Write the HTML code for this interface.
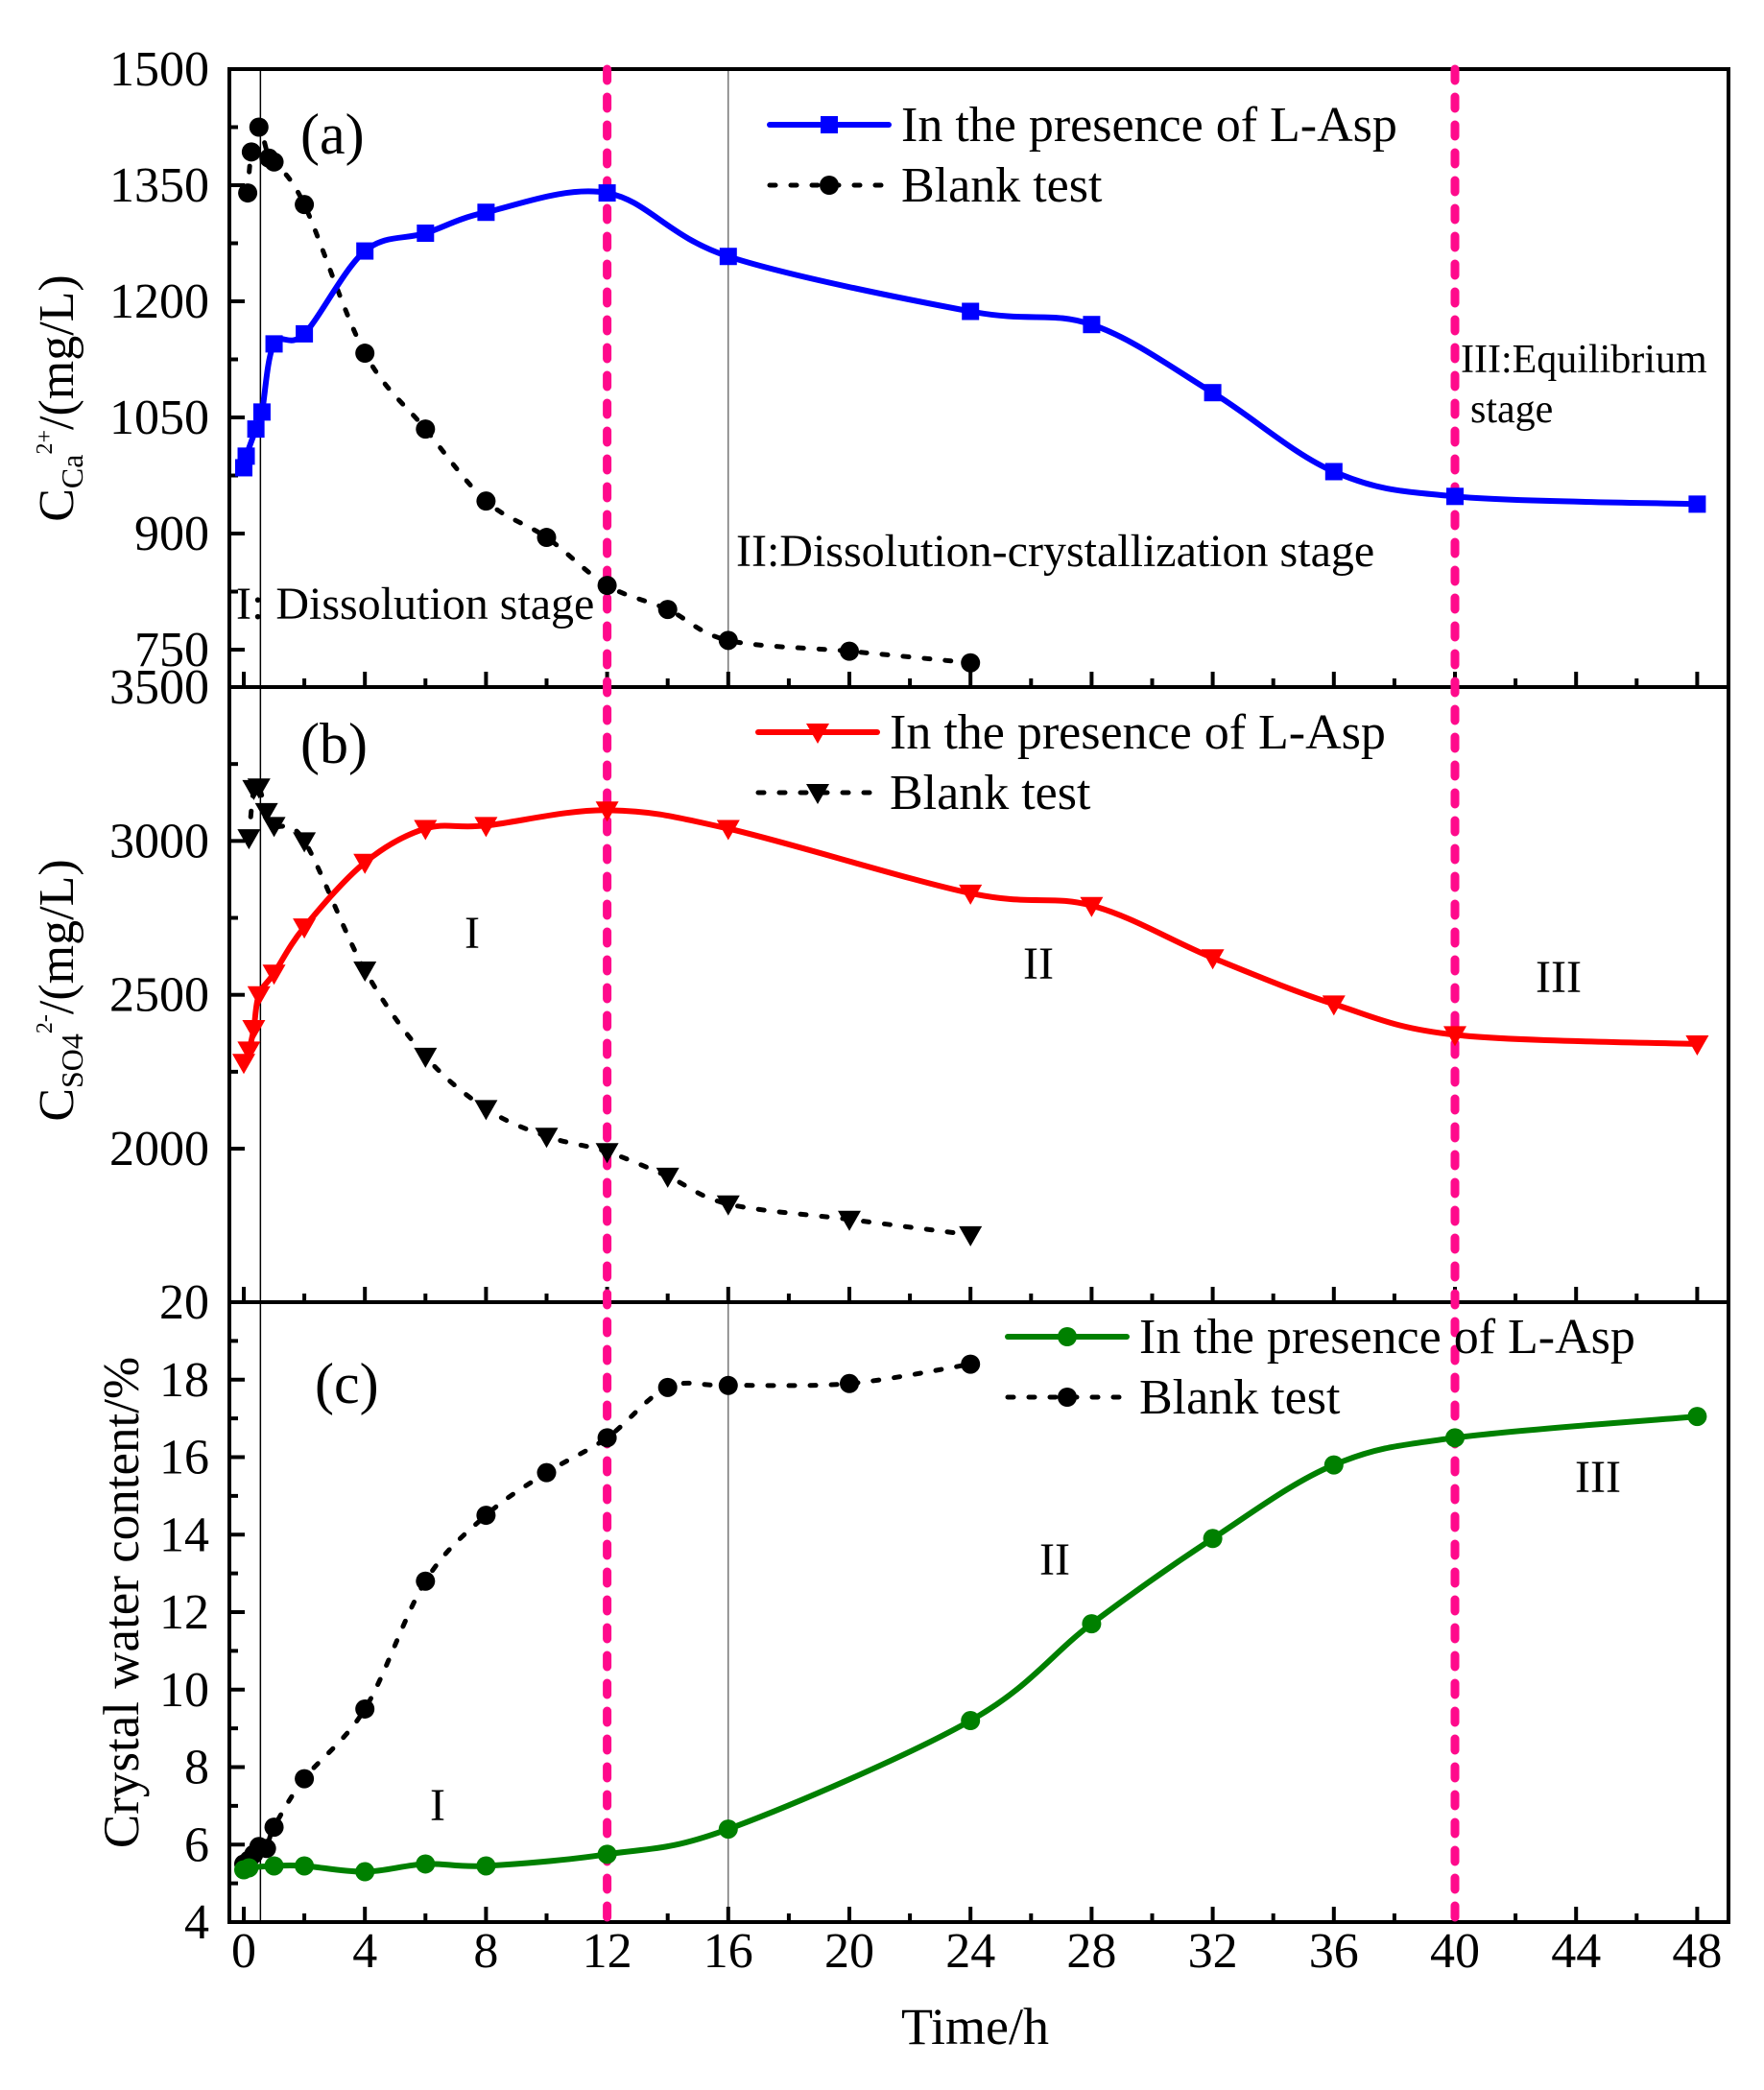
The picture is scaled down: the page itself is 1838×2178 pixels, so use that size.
<!DOCTYPE html>
<html><head><meta charset="utf-8"><style>
html,body{margin:0;padding:0;background:#fff}
svg{display:block}
text{font-family:"Liberation Serif",serif;fill:#000}
</style></head><body>
<svg id="chart" width="1838" height="2178" viewBox="0 0 1838 2178" xmlns="http://www.w3.org/2000/svg"></svg>
<script>
// ---- data ----
const caLaspT = [0,0.08,0.4,0.6,1,2,4,6,8,12,16,24,28,32,36,40,48];
const caLaspV = [985,1000,1035,1057,1145,1158,1265,1288,1315,1340,1258,1187,1170,1082,980,948,938];
const caBlankT = [0.13,0.25,0.5,0.83,1,2,4,6,8,10,12,14,16,20,24];
const caBlankV = [1340,1393,1425,1385,1380,1325,1133,1035,942,895,833,802,762,748,733];
const soLaspT = [0,0.17,0.33,0.5,1,2,4,6,8,12,16,24,28,32,36,40,48];
const soLaspV = [2280,2320,2390,2500,2570,2720,2930,3040,3050,3100,3040,2830,2790,2620,2470,2370,2340];
const soBlankT = [0.17,0.33,0.5,0.75,1,2,4,6,8,10,12,14,16,20,24];
const soBlankV = [3010,3170,3175,3095,3050,3000,2580,2300,2130,2040,1990,1910,1820,1770,1720];
const cwLaspT = [0,0.17,1,2,4,6,8,12,16,24,28,32,36,40,48];
const cwLaspV = [5.35,5.4,5.45,5.45,5.3,5.5,5.45,5.75,6.4,9.2,11.7,13.9,15.8,16.5,17.05];
const cwBlankT = [0,0.17,0.33,0.5,0.75,1,2,4,6,8,10,12,14,16,20,24];
const cwBlankV = [5.5,5.6,5.75,5.95,5.9,6.45,7.7,9.5,12.8,14.5,15.6,16.5,17.8,17.85,17.9,18.4];
const xTicks = [0,4,8,12,16,20,24,28,32,36,40,44,48];
const caTicks = [750,900,1050,1200,1350,1500];
const soTicks = [2000,2500,3000,3500];
const cwTicks = [4,6,8,10,12,14,16,18,20];

const NS="http://www.w3.org/2000/svg";
const svg=document.getElementById('chart');
function el(tag,attrs,parent){const e=document.createElementNS(NS,tag);for(const k in attrs)e.setAttribute(k,attrs[k]);(parent||svg).appendChild(e);return e;}
const L=239,R=1801;
const X0=254,KX=31.55;
function xs(t){return X0+t*KX;}
const panels={
 a:{top:72,bot:716,y:v=>72+(1500-v)*0.8067},
 b:{top:716,bot:1357,y:v=>716+(3500-v)*0.3207},
 c:{top:1357,bot:2003,y:v=>2003-(v-4)*40.375}
};
function smoothPath(pts){
  let d=`M${pts[0][0]},${pts[0][1]}`;
  for(let i=0;i<pts.length-1;i++){
    const p0=pts[Math.max(0,i-1)],p1=pts[i],p2=pts[i+1],p3=pts[Math.min(pts.length-1,i+2)];
    const c1x=p1[0]+(p2[0]-p0[0])/6,c1y=p1[1]+(p2[1]-p0[1])/6;
    const c2x=p2[0]-(p3[0]-p1[0])/6,c2y=p2[1]-(p3[1]-p1[1])/6;
    d+=` C${c1x},${c1y} ${c2x},${c2y} ${p2[0]},${p2[1]}`;
  }
  return d;
}
function marker(shape,x,y,color,g){
  let m;
  if(shape==='sq') m=el('rect',{x:x-9,y:y-9,width:18,height:18,fill:color},g);
  else if(shape==='ci') m=el('circle',{cx:x,cy:y,r:10,fill:color},g);
  else m=el('polygon',{points:`${x-12},${y-9} ${x+12},${y-9} ${x},${y+12}`,fill:color},g);
  return m;
}
function series(name,T,V,p,color,shape,dashed){
  const g=el('g',{});
  
  
  const pts=T.map((t,i)=>[xs(t),p.y(V[i])]);
  const path=el('path',{d:smoothPath(pts),fill:'none',stroke:color,'stroke-width':dashed?5:6,'stroke-dasharray':dashed?'6 16':'none','stroke-linecap':dashed?'round':'butt'},g);
  
  
  pts.forEach(pt=>{const m=marker(shape,pt[0],pt[1],color,g);
    
    });
}
const vl1=el('line',{x1:xs(0.55),y1:72,x2:xs(0.55),y2:2003,stroke:'#000','stroke-width':1.5});


[[72,716],[1357,2003]].forEach(r=>{const l=el('line',{x1:xs(16),y1:r[0],x2:xs(16),y2:r[1],stroke:'#555','stroke-width':1.2});
 
 });

function axes(key,ticks,minorStep,labels){
  const p=panels[key];
  const g=el('g',{});
  
  
  el('rect',{x:L,y:p.top,width:R-L,height:p.bot-p.top,fill:'none',stroke:'#000','stroke-width':4},g);
  for(let t=0;t<=48;t+=2){const maj=t%4===0;el('line',{x1:xs(t),y1:p.bot,x2:xs(t),y2:p.bot-(maj?16:9),stroke:'#000','stroke-width':4},g);}
  const lo=ticks[0],hi=ticks[ticks.length-1];
  for(let v=lo;v<=hi+1e-9;v+=minorStep){const maj=ticks.some(tk=>Math.abs(tk-v)<1e-6);
    el('line',{x1:L,y1:p.y(v),x2:L+(maj?16:9),y2:p.y(v),stroke:'#000','stroke-width':4},g);}
  labels.forEach(v=>{const tx=el('text',{x:218,y:p.y(v)+17,'font-size':52,'text-anchor':'end'},g);tx.textContent=v;
    
    });
}
axes('a',caTicks,75,caTicks);
axes('b',soTicks,250,soTicks.slice());
axes('c',cwTicks,1,cwTicks);
xTicks.forEach(t=>{const tx=el('text',{x:xs(t),y:2050,'font-size':52,'text-anchor':'middle'});tx.textContent=t;
 
 });

[12,40].forEach(t=>{const l=el('line',{x1:xs(t),y1:72,x2:xs(t),y2:1998,stroke:'#ff0a8c','stroke-width':9,'stroke-dasharray':'12 17','stroke-linecap':'round'});
 
 });

series('ca-blank-series',caBlankT,caBlankV,panels.a,'#000','ci',true);
series('ca-lasp-series',caLaspT,caLaspV,panels.a,'#0000ff','sq',false);
series('so4-blank-series',soBlankT,soBlankV,panels.b,'#000','tri',true);
series('so4-lasp-series',soLaspT,soLaspV,panels.b,'#ff0000','tri',false);
series('cw-blank-series',cwBlankT,cwBlankV,panels.c,'#000','ci',true);
series('cw-lasp-series',cwLaspT,cwLaspV,panels.c,'#008000','ci',false);

function legend(x,y,color,shape,dashed,label,name){
  const g=el('g',{});
  
  
  el('line',{x1:x,y1:y,x2:x+124,y2:y,stroke:color,'stroke-width':dashed?5:6,'stroke-dasharray':dashed?'6 16':'none','stroke-linecap':'round'},g);
  marker(shape,x+62,y,color,g);
  const t=el('text',{x:x+137,y:y+17,'font-size':52},g);t.textContent=label;
}
legend(802,130,'#0000ff','sq',false,'In the presence of L-Asp','legend-ca-lasp');
legend(802,193,'#000','ci',true,'Blank test','legend-ca-blank');
legend(790,763,'#ff0000','tri',false,'In the presence of L-Asp','legend-so4-lasp');
legend(790,826,'#000','tri',true,'Blank test','legend-so4-blank');
legend(1050,1393,'#008000','ci',false,'In the presence of L-Asp','legend-cw-lasp');
legend(1050,1456,'#000','ci',true,'Blank test','legend-cw-blank');

function txt(x,y,s,size,name,anchor,rot){
  const t=el('text',{x:x,y:y,'font-size':size,'text-anchor':anchor||'start'});
  if(rot)t.setAttribute('transform',`rotate(-90 ${x} ${y})`);
  t.textContent=s;
  
  
  return t;
}
txt(313,160,'(a)',60,'panel-a-label');
txt(313,795,'(b)',60,'panel-b-label');
txt(328,1462,'(c)',60,'panel-c-label');
txt(246,645,'I: Dissolution stage',48,'stage-1-annotation');
txt(767,590,'II:Dissolution-crystallization stage',48,'stage-2-annotation');
txt(1522,388,'III:Equilibrium',42,'stage-3-annotation');
txt(1532,440,'stage',42,'stage-3-annotation-2');
txt(492,988,'I',48,'region-I-b','middle');
txt(1082,1020,'II',48,'region-II-b','middle');
txt(1624,1034,'III',48,'region-III-b','middle');
txt(456,1897,'I',48,'region-I-c','middle');
txt(1099,1641,'II',48,'region-II-c','middle');
txt(1665,1555,'III',48,'region-III-c','middle');
const ya=el('text',{x:76,y:415,'font-size':52,'text-anchor':'middle',transform:'rotate(-90 76 415)'});


ya.innerHTML='C<tspan font-size="32" dy="10">Ca</tspan><tspan font-size="24" dy="-32">2+</tspan><tspan dy="22">/(mg/L)</tspan>';
const yb=el('text',{x:76,y:1032,'font-size':52,'text-anchor':'middle',transform:'rotate(-90 76 1032)'});


yb.innerHTML='C<tspan font-size="32" dy="10">SO4</tspan><tspan font-size="24" dy="-32">2-</tspan><tspan dy="22">/(mg/L)</tspan>';
txt(144,1670,'Crystal water content/%',53,'y-axis-title-c','middle',true);
txt(1016,2130,'Time/h',54,'x-axis-title','middle');
</script>
</body></html>
